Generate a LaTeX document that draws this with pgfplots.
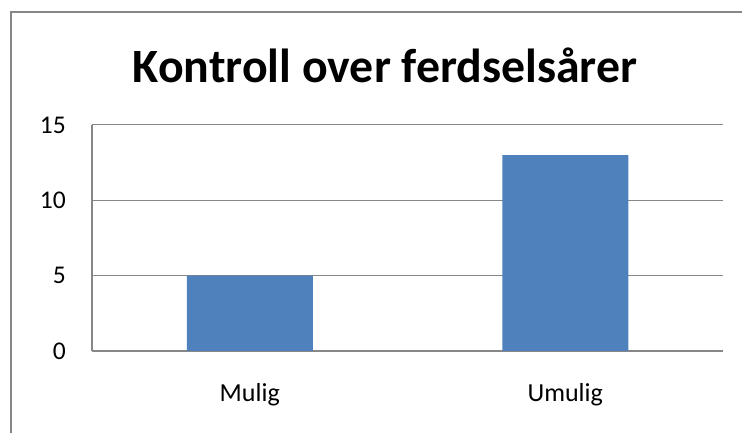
\documentclass[border=0pt]{standalone}
\usepackage{fontspec}
\setmainfont{Carlito}
\usepackage{pgfplots}
\pgfplotsset{compat=1.18}
\definecolor{barblue}{HTML}{4F81BD}
\definecolor{gridgray}{HTML}{878787}
\begin{document}
\begin{tikzpicture}[x=1pt,y=1pt]
\useasboundingbox (0,0) rectangle (742,433);
\draw[gridgray, line width=2pt] (11,0) -- (11,421) -- (742,421);
\node[anchor=base, font=\fontsize{47.8}{54}\selectfont\bfseries] at (385,350) {Kontroll over ferdselsårer};
\begin{axis}[
  at={(92pt,82pt)}, anchor=south west,
  scale only axis, width=631pt, height=226pt,
  xmin=-0.5, xmax=1.5, ymin=0, ymax=15,
  ytick={0,5,10,15}, xtick={0,1}, xticklabels={Mulig,Umulig},
  axis x line*=bottom, axis y line*=left,
  ymajorgrids, grid style={gridgray, line width=1pt},
  axis line style={gridgray, line width=1.3pt},
  major tick length=0pt,
  /pgf/number format/assume math mode=true,
  ticklabel style={font=\fontsize{25.5}{30}\selectfont, inner sep=0pt},
  yticklabel style={anchor=east, xshift=-26pt},
  xticklabel style={anchor=north, yshift=-32pt, font=\fontsize{26}{30}\selectfont},
  ybar, bar width=126pt,
]
\addplot[fill=barblue, draw=none] coordinates {(0,5) (1,13)};
\end{axis}
\end{tikzpicture}
\end{document}
